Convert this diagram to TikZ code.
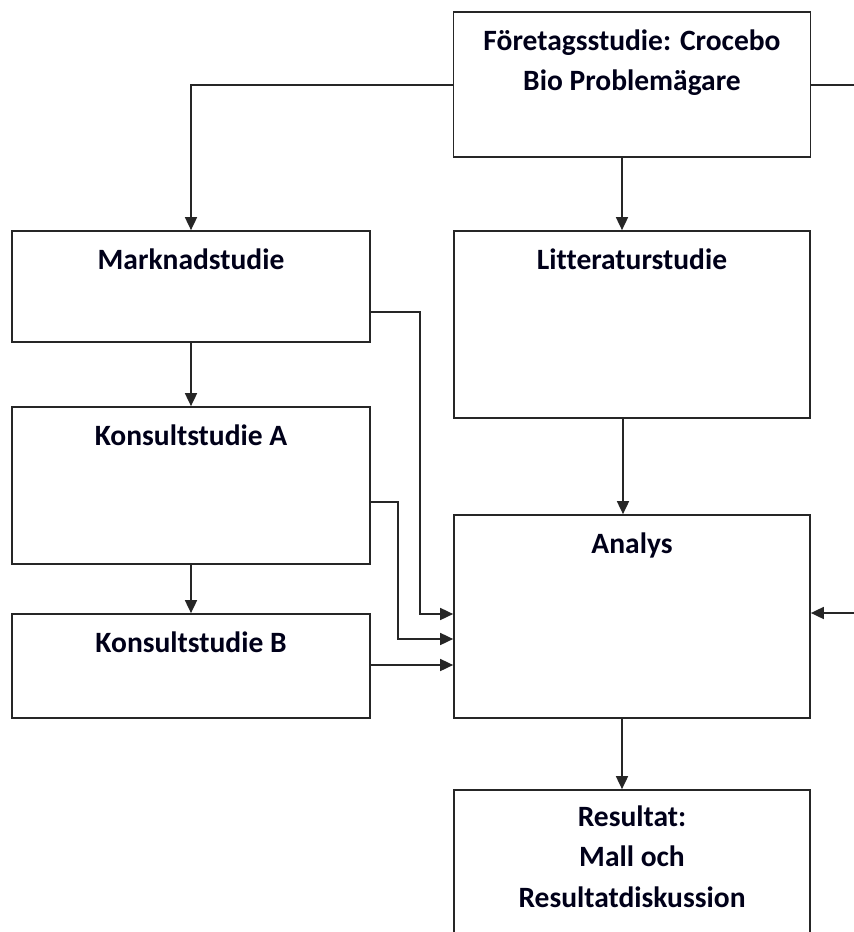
\documentclass[tikz,border=0pt]{standalone}
\usepackage{fontspec}
\setmainfont{Carlito}[Ligatures={NoCommon}]
\usetikzlibrary{arrows.meta,calc}
\begin{document}
\begin{tikzpicture}[x=1bp,y=-1bp,
  boxnode/.style={draw=black!85,line width=1.7bp,rectangle,inner sep=0pt,fill=white},
  label/.style={font=\fontsize{29.5bp}{40.5bp}\selectfont\bfseries,color=black!90!blue,align=center,anchor=north,inner sep=0pt},
  conn/.style={draw=black!85,line width=1.7bp},
  arr/.style={conn,-{Triangle[length=13bp,width=12bp]}}]
\useasboundingbox (0,0) rectangle (854,932);
\clip (0,0) rectangle (854,932);
% boxes
\node[boxnode,minimum width=357bp,minimum height=145bp] (F) at (632,84.5) {};
\node[boxnode,minimum width=358bp,minimum height=111bp] (M) at (191,286.5) {};
\node[boxnode,minimum width=356bp,minimum height=187bp] (L) at (632,324.5) {};
\node[boxnode,minimum width=358bp,minimum height=157bp] (KA) at (191,485.5) {};
\node[boxnode,minimum width=358bp,minimum height=104bp] (KB) at (191,666) {};
\node[boxnode,minimum width=356bp,minimum height=203bp] (An) at (632,616.5) {};
\node[boxnode,minimum width=356bp,minimum height=220bp] (R) at (632,900) {};
% texts
\node[label] (tF) at ($(F.north)+(0,18)$) {Företagsstudie: Crocebo\\Bio Problemägare};
\node[label] (tM) at ($(M.north)+(0,18)$) {Marknadstudie};
\node[label] (tL) at ($(L.north)+(0,18)$) {Litteraturstudie};
\node[label] (tKA) at ($(KA.north)+(0,18)$) {Konsultstudie A};
\node[label] (tKB) at ($(KB.north)+(0,18)$) {Konsultstudie B};
\node[label] (tAn) at ($(An.north)+(0,18)$) {Analys};
\node[label] (tR) at ($(R.north)+(0,16)$) {Resultat:\\Mall och\\Resultatdiskussion};
% free ends
\coordinate (eR1) at (854,85);
\coordinate (eR2) at (854,613);
% connectors
\draw[arr] (F.west |- 0,85) -| (M.north);
\draw[conn] (F.east |- 0,85) -- (eR1);
\draw[arr] (eR2) -- (An.east |- eR2);
\draw[arr] (F.south -| 622,0) -- (L.north -| 622,0);
\draw[arr] (L.south -| 623,0) -- (An.north -| 623,0);
\draw[arr] (An.south -| 622,0) -- (R.north -| 622,0);
\draw[arr] (M.south) -- (KA.north);
\draw[arr] (KA.south) -- (KB.north);
\draw[arr] (M.east |- 0,312) -- (420,312) |- (An.west |- 0,614);
\draw[arr] (KA.east |- 0,502) -- (398,502) |- (An.west |- 0,639);
\draw[arr] (KB.east |- 0,665) -- (An.west |- 0,665);
\end{tikzpicture}
\end{document}
